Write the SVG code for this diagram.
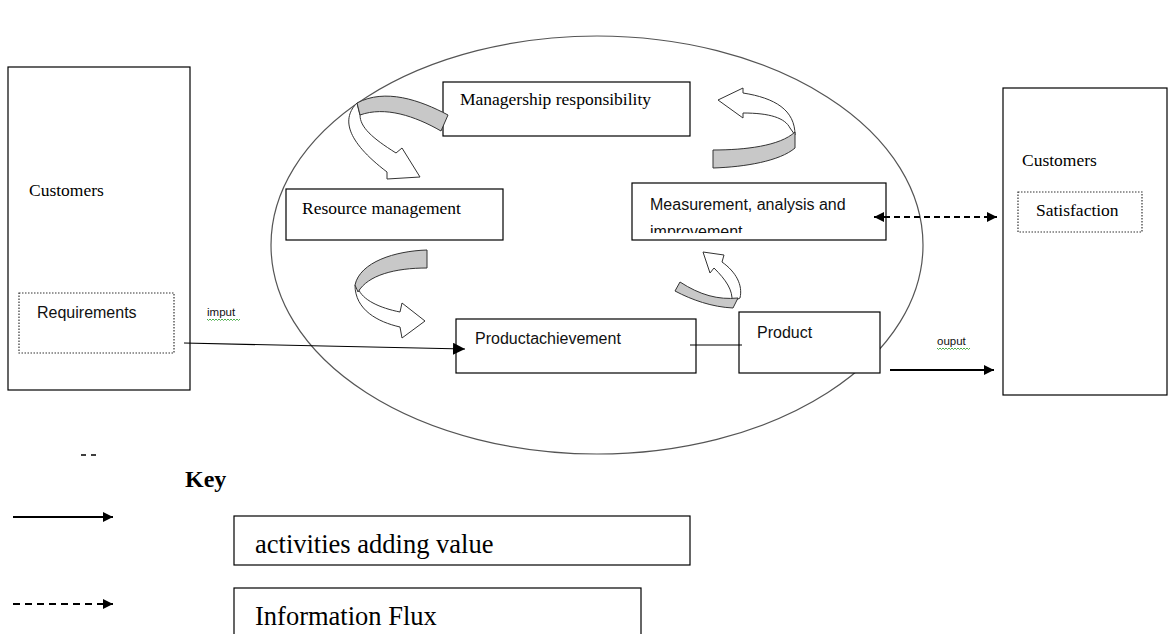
<svg xmlns="http://www.w3.org/2000/svg" width="1168" height="634" viewBox="0 0 1168 634">
  <defs>
    <marker id="head" viewBox="0 0 10 10" refX="10" refY="5" markerWidth="5" markerHeight="5" orient="auto" markerUnits="strokeWidth">
      <path d="M0,0 L10,5 L0,10 Z" fill="#000"/>
    </marker>
    <marker id="headThin" viewBox="0 0 10 10" refX="10" refY="5" markerWidth="10" markerHeight="10" orient="auto" markerUnits="strokeWidth">
      <path d="M0,0 L10,5 L0,10 Z" fill="#000"/>
    </marker>
    <marker id="headStart" viewBox="0 0 10 10" refX="0" refY="5" markerWidth="5" markerHeight="5" orient="auto" markerUnits="strokeWidth">
      <path d="M10,0 L0,5 L10,10 Z" fill="#000"/>
    </marker>
    <clipPath id="measClip">
      <rect x="632" y="183" width="254" height="50"/>
    </clipPath>
  </defs>
  <style>
    .box { fill: #fff; stroke: #000; stroke-width: 1.2; }
    .dotbox { fill: none; stroke: #333; stroke-width: 1.2; stroke-dasharray: 1.5 1.5; }
    .serif { font-family: "Liberation Serif", "Times New Roman", serif; fill: #000; font-size: 17.5px; }
    .sans { font-family: "Liberation Sans", Arial, sans-serif; fill: #111; font-size: 16px; }
    .small { font-family: "Liberation Sans", Arial, sans-serif; fill: #111; font-size: 11.5px; }
    .band { fill: #c8c8c8; stroke: #333; stroke-width: 1; stroke-linejoin: round; }
    .shaft { fill: #fff; stroke: #333; stroke-width: 1; stroke-linejoin: round; }
    .squiggle { fill: none; stroke: #3aa63a; stroke-width: 0.9; }
  </style>

  <rect width="1168" height="634" fill="#fff"/>

  <!-- organisation boundary -->
  <ellipse cx="597" cy="245" rx="326" ry="209" fill="none" stroke="#555" stroke-width="1.2"/>

  <!-- customers (left) -->
  <g id="customers-in">
    <rect class="box" x="8" y="67" width="182" height="323"/>
    <text class="serif" x="29" y="196">Customers</text>
  </g>
  <g id="requirements">
    <rect class="dotbox" x="19" y="293" width="155" height="60"/>
    <text class="sans" x="37" y="318">Requirements</text>
  </g>

  <!-- process boxes -->
  <g id="managership">
    <rect class="box" x="443" y="82" width="247" height="54"/>
    <text class="serif" x="460" y="105">Managership responsibility</text>
  </g>
  <g id="resource">
    <rect class="box" x="286" y="189" width="217" height="51"/>
    <text class="serif" x="302" y="214">Resource management</text>
  </g>
  <g id="measurement">
    <rect class="box" x="632" y="183" width="254" height="57"/>
    <g clip-path="url(#measClip)">
      <text class="sans" x="650" y="210">Measurement, analysis and</text>
      <text class="sans" x="650" y="237">improvement</text>
    </g>
  </g>
  <g id="achievement">
    <rect class="box" x="456" y="319" width="240" height="54"/>
    <text class="sans" x="475" y="344">Productachievement</text>
  </g>
  <g id="product">
    <rect class="box" x="739" y="312" width="141" height="61"/>
    <text class="sans" x="757" y="338">Product</text>
  </g>

  <!-- customers (right) -->
  <g id="customers-out">
    <rect class="box" x="1003" y="88" width="164" height="307"/>
    <text class="serif" x="1022" y="166">Customers</text>
  </g>
  <g id="satisfaction">
    <rect class="dotbox" x="1018" y="192" width="124" height="40"/>
    <text class="serif" x="1036" y="216">Satisfaction</text>
  </g>

  <!-- cycle arrows (ribbon style) -->
  <g id="cycle-arrows">
    <!-- managership -> resource -->
    <path class="shaft" d="M357,103 C342,118 345,140 387,172 L387,179 L420,177 L402,148 L396,153 C372,138 360,127 360,115 Z"/>
    <path class="band" d="M357,103 C385,88 420,100 448,115 L441,131 C415,116 385,106 360,115 Z"/>
    <!-- resource -> achievement -->
    <path class="shaft" d="M355,285 C355,310 378,322 400,327 L402,338 L425,321 L402,303 L400,312 C380,308 362,300 358,288 Z"/>
    <path class="band" d="M427,250 C395,251 360,262 355,285 L358,292 C368,275 395,268 427,268 Z"/>
    <!-- achievement -> measurement -->
    <path class="shaft" d="M703,252 L710,273 L714,268 C726,280 733,290 732,302 L740,298 C743,285 736,272 722,262 L724,255 Z"/>
    <path class="band" d="M680,282 C700,295 718,300 738,298 L733,308 C712,307 692,300 675,291 Z"/>
    <!-- measurement -> managership -->
    <path class="shaft" d="M718,100 L743,88 L743,93 C775,98 795,110 795,135 L790,128 C785,118 770,113 743,113 L743,118 Z"/>
    <path class="band" d="M713,150 C745,150 780,146 795,132 L795,148 C780,161 745,167 713,168 Z"/>
  </g>

  <!-- flows -->
  <g id="connectors">
    <line x1="184" y1="343" x2="465" y2="349" stroke="#000" stroke-width="1.2" marker-end="url(#headThin)"/>
    <line x1="690" y1="345" x2="742" y2="345" stroke="#000" stroke-width="1.2"/>
    <line x1="890" y1="370" x2="994" y2="370" stroke="#000" stroke-width="2" marker-end="url(#head)"/>
    <line x1="874" y1="217" x2="997" y2="217" stroke="#000" stroke-width="2" stroke-dasharray="6 4" marker-start="url(#headStart)" marker-end="url(#head)"/>
    <text class="small" x="207" y="316">imput</text>
    <path class="squiggle" d="M207,319 l1.5,1.5 l1.5,-1.5 l1.5,1.5 l1.5,-1.5 l1.5,1.5 l1.5,-1.5 l1.5,1.5 l1.5,-1.5 l1.5,1.5 l1.5,-1.5 l1.5,1.5 l1.5,-1.5 l1.5,1.5 l1.5,-1.5 l1.5,1.5 l1.5,-1.5 l1.5,1.5 l1.5,-1.5 l1.5,1.5 l1.5,-1.5 l1.5,1.5 l1.5,-1.5"/>
    <text class="small" x="937" y="345">ouput</text>
    <path class="squiggle" d="M937,348 l1.5,1.5 l1.5,-1.5 l1.5,1.5 l1.5,-1.5 l1.5,1.5 l1.5,-1.5 l1.5,1.5 l1.5,-1.5 l1.5,1.5 l1.5,-1.5 l1.5,1.5 l1.5,-1.5 l1.5,1.5 l1.5,-1.5 l1.5,1.5 l1.5,-1.5 l1.5,1.5 l1.5,-1.5 l1.5,1.5 l1.5,-1.5 l1.5,1.5 l1.5,-1.5"/>
  </g>

  <!-- stray marks -->
  <path d="M81,455 h5 M91,455 h5" stroke="#000" stroke-width="1.5"/>

  <!-- key -->
  <g id="key">
    <text class="serif" x="185" y="487" font-size="24" font-weight="bold" style="font-size:24px">Key</text>
    <line x1="13" y1="517" x2="113" y2="517" stroke="#000" stroke-width="2" marker-end="url(#head)"/>
    <line x1="13" y1="604" x2="113" y2="604" stroke="#000" stroke-width="2" stroke-dasharray="7 5" marker-end="url(#head)"/>
    <rect class="box" x="234" y="516" width="456" height="49"/>
    <text class="serif" x="255" y="553" style="font-size:26.5px">activities adding value</text>
    <rect class="box" x="234" y="588" width="407" height="50"/>
    <text class="serif" x="255" y="625" style="font-size:26.5px">Information Flux</text>
  </g>
</svg>
